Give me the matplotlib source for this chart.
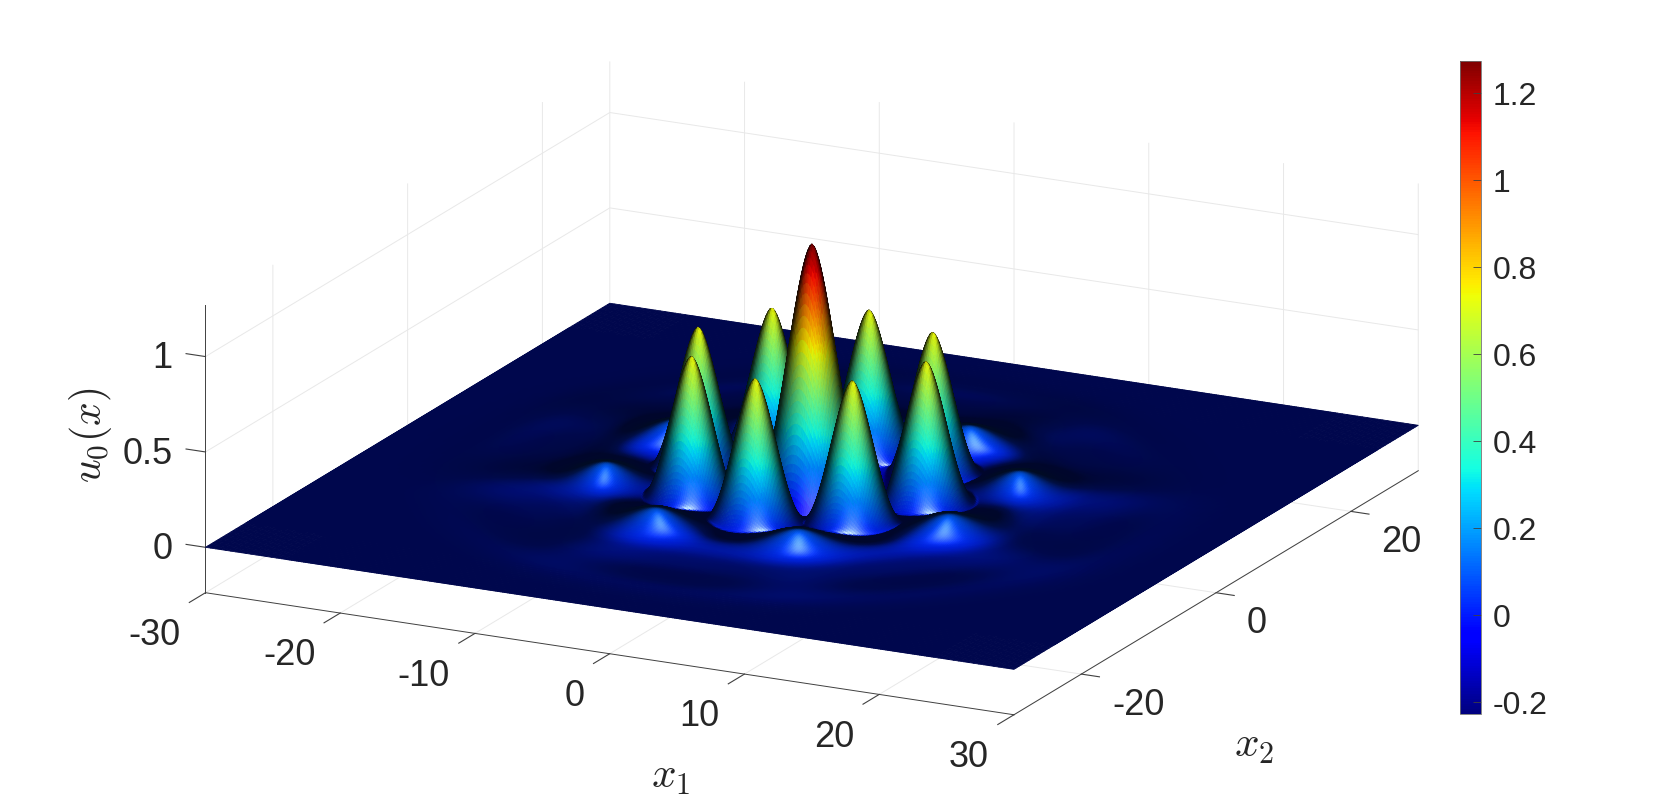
import numpy as np
import matplotlib
matplotlib.use("Agg")
import matplotlib.pyplot as plt
from matplotlib import cm
from matplotlib.colors import Normalize

plt.rcParams['font.family'] = ['Liberation Sans', 'DejaVu Sans']
plt.rcParams['mathtext.fontset'] = 'cm'
plt.rcParams['axes.unicode_minus'] = False

# Values: the continuous surface is described by its
# visible features (peak / lobe / ripple positions, heights and widths).
peak_x1 = [0.0, 8.45, 5.97, 0.0, -5.97, -8.45, -5.97, 0.0, 5.97]
peak_x2 = [0.0, 0.0, 5.97, 8.45, 5.97, 0.0, -5.97, -8.45, -5.97]
peak_height = [1.27, 0.744, 0.744, 0.744, 0.744, 0.744, 0.744, 0.744, 0.744]
peak_base_radius = [3.9, 3.4, 3.4, 3.4, 3.4, 3.4, 3.4, 3.4, 3.4]

lobe_angle_deg = [22.5, 67.5, 112.5, 157.5, 202.5, 247.5, 292.5, 337.5]
lobe_radius = [13.5, 13.5, 13.5, 13.5, 13.5, 13.5, 13.5, 13.5]
lobe_height = [0.085, 0.085, 0.085, 0.085, 0.085, 0.085, 0.085, 0.085]
lobe_sigma = [1.9, 1.9, 1.9, 1.9, 1.9, 1.9, 1.9, 1.9]

outer_radius = [19.5, 19.5, 19.5, 19.5, 19.5, 19.5, 19.5, 19.5]
outer_height = [0.009, 0.009, 0.009, 0.009, 0.009, 0.009, 0.009, 0.009]
outer_sigma = [2.6, 2.6, 2.6, 2.6, 2.6, 2.6, 2.6, 2.6]

ripple_radius = [4.6, 10.8, 14.5, 18.0, 23.5]
ripple_amp = [-0.2, -0.006, 0.02, 0.003, 0.002]
ripple_sigma = [0.7, 1.0, 1.6, 1.5, 1.5]

x1_ticks = [-30, -20, -10, 0, 10, 20, 30]
x2_ticks = [-20, 0, 20]
z_ticks = [0, 0.5, 1]
z_tick_labels = ['0', '0.5', '1']
cbar_ticks = [-0.2, 0, 0.2, 0.4, 0.6, 0.8, 1, 1.2]
cbar_labels = ['-0.2', '0', '0.2', '0.4', '0.6', '0.8', '1', '1.2']
x_limits = (-30, 30)
z_limits = (-0.238, 1.268)
color_limits = (-0.227, 1.275)
view_elev = 17.57
view_azim = -63.43

TEXT = '#262626'
fig = plt.figure(figsize=(16.61, 8.02), dpi=100, facecolor='white')
W = 1400.0
ax = fig.add_axes([92.95 / 1661, -305 / 802, W / 1661, W / 802], projection='3d',
                  computed_zorder=False)
ax.set_proj_type('ortho')
ax.view_init(elev=view_elev, azim=view_azim)
ax.set_box_aspect((3, 3, 1), zoom=1275.0 / W)

g = np.concatenate([np.linspace(-30, -24, 16, endpoint=False),
                    np.linspace(-24, 24, 380, endpoint=False),
                    np.linspace(24, 30, 17)])
X, Y = np.meshgrid(g, g, indexing='xy')
R = np.hypot(X, Y)
Z = np.zeros_like(X)
for a, b, h, w in zip(peak_x1, peak_x2, peak_height, peak_base_radius):
    rr = np.clip(np.hypot(X - a, Y - b) / w, 0, 1)
    Z += h * np.cos(np.pi / 2 * rr ** 0.85) ** 2
for ang, r, h, s in zip(lobe_angle_deg, lobe_radius, lobe_height, lobe_sigma):
    t = np.deg2rad(ang)
    Z += h * np.exp(-((X - r * np.cos(t)) ** 2 + (Y - r * np.sin(t)) ** 2) / (2 * s ** 2))
for ang, r, h, s in zip(lobe_angle_deg, outer_radius, outer_height, outer_sigma):
    t = np.deg2rad(ang)
    Z += h * np.exp(-((X - r * np.cos(t)) ** 2 + (Y - r * np.sin(t)) ** 2) / (2 * s ** 2))
for r, a, s in zip(ripple_radius, ripple_amp, ripple_sigma):
    Z += a * np.exp(-((R - r) ** 2) / (2 * s ** 2))

# headlight shading
slope_gain = 70.0
dzdy, dzdx = np.gradient(Z, g, g)
N = np.dstack([-slope_gain * dzdx, -slope_gain * dzdy, np.ones_like(Z)])
N /= np.linalg.norm(N, axis=2, keepdims=True)
e, az = np.deg2rad(view_elev), np.deg2rad(view_azim)
V = np.array([np.cos(e) * np.cos(az), np.cos(e) * np.sin(az), np.sin(e)])
ndv = np.clip(N @ V, 0, 1)
spec = 0.9 * np.clip(2 * ndv ** 2 - 1, 0, 1) ** 8 * np.clip(1 - Z / 0.16, 0, 1)
bright = np.where(ndv > 0.3, ndv, 0.18 + 0.4 * ndv)
bright = bright ** (1 + 0.5 * np.clip(Z / 0.3, 0, 1))
norm = Normalize(*color_limits)
rgb = cm.jet(norm(Z))[..., :3] * bright[..., None] + spec[..., None]
rgba = np.dstack([np.clip(rgb, 0, 1), np.ones_like(Z)])

ax.plot_surface(X, Y, Z, facecolors=rgba, rstride=1, cstride=1, shade=False,
                linewidth=0.6, antialiased=True)

ax.set_xlim(*x_limits)
ax.set_ylim(*x_limits)
ax.set_zlim(*z_limits)
ax.set_xticks(x1_ticks)
ax.set_yticks(x2_ticks)
ax.set_zticks(z_ticks)
ax.set_zticklabels(z_tick_labels)
ax.zaxis.set_ticks_position('lower')
ax.zaxis.set_label_position('lower')
ax.zaxis._get_tickdir = lambda pos: 0

for axis, out in ((ax.xaxis, -0.5), (ax.yaxis, -0.28), (ax.zaxis, 0.3)):
    axis.set_pane_color((1, 1, 1, 1))
    axis.pane.set_edgecolor((1, 1, 1, 0))
    axis.line.set_color('#404040')
    axis.line.set_linewidth(0.7)
    axis._axinfo['grid'].update(color='#e8e8e8', linewidth=0.7)
    axis._axinfo['tick']['inward_factor'] = 0.0
    axis._axinfo['tick']['outward_factor'] = out
    axis.set_rotate_label(False)
ax.tick_params(axis='both', labelsize=26, labelcolor=TEXT, color='#404040', width=0.7, pad=10)

ax.set_xlabel(r'$x_1$', fontsize=31, color=TEXT, labelpad=30)
ax.set_ylabel(r'$x_2$', fontsize=31, color=TEXT, labelpad=30)
ax.set_zlabel(r'$u_0(x)$', fontsize=30, color=TEXT, labelpad=30, rotation=90)


def nudge_label(label, dx, dy):
    # the 3D axis sets text positions while drawing, so shift them as they are set
    unit = 0.185 / W
    original = label.set_position
    label.set_position = lambda xy: original((xy[0] + dx * unit, xy[1] + dy * unit))


for axis, ha, dx, dy in ((ax.xaxis, 'right', -11, -24.4),
                         (ax.yaxis, 'left', 3, -17),
                         (ax.zaxis, 'right', 8.6, 2)):
    for tick in axis.get_major_ticks():
        tick.label1.set_ha(ha)
        tick.label1.set_va('center')
        nudge_label(tick.label1, dx, dy)
nudge_label(ax.xaxis.label, 100, -72)
nudge_label(ax.yaxis.label, -41, -114)
nudge_label(ax.zaxis.label, 3, 26)

cax = fig.add_axes([1459.5 / 1661, (802 - 714) / 802, 22 / 1661, 653.4 / 802])
cb = fig.colorbar(cm.ScalarMappable(norm=norm, cmap='jet'), cax=cax)
cb.set_ticks(cbar_ticks)
cb.set_ticklabels(cbar_labels)
cax.tick_params(labelsize=23, labelcolor=TEXT, direction='in', length=6, width=0.6, color='#404040', pad=8)
cb.outline.set_edgecolor('#707070')
cb.outline.set_linewidth(0.6)

fig.savefig('out.png', dpi=100, facecolor='white')
